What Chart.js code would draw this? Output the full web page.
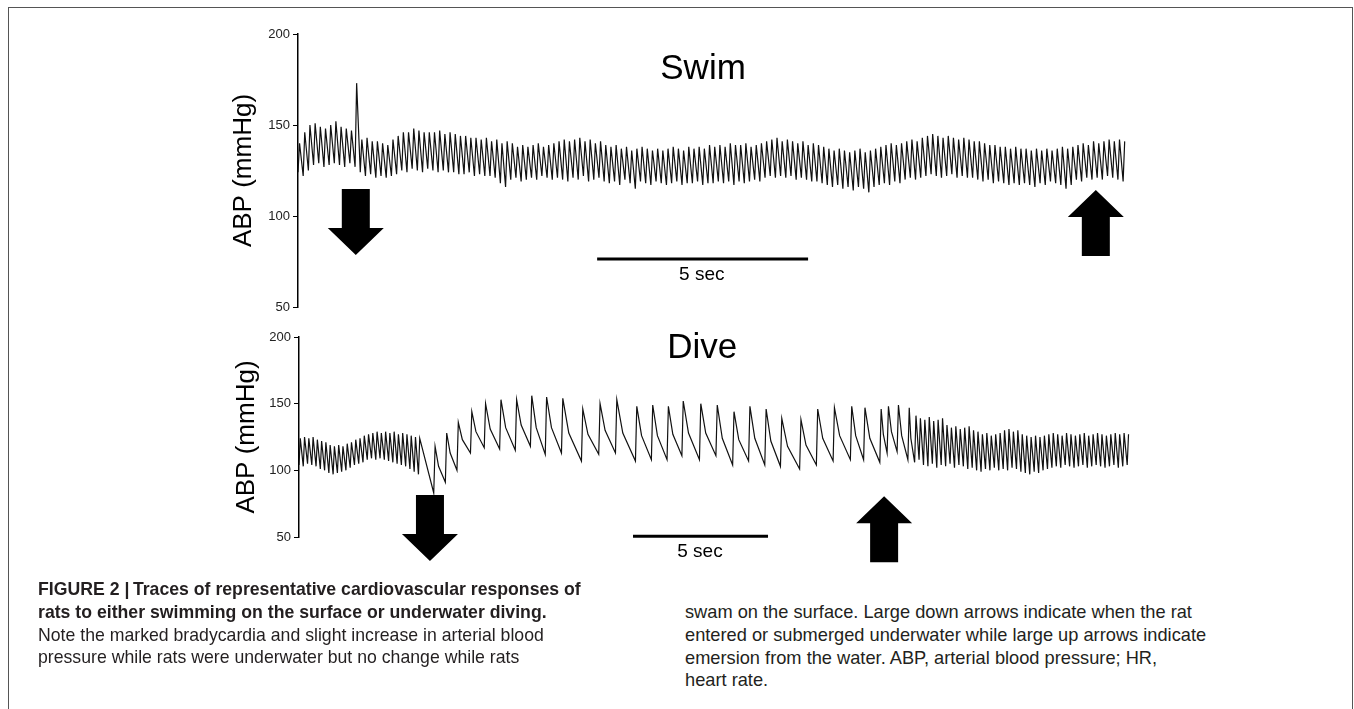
<!DOCTYPE html>
<html>
<head>
<meta charset="utf-8">
<script src="https://cdn.jsdelivr.net/npm/chart.js@4.4.1/dist/chart.umd.min.js"></script>
<style>
  body { margin:0; background:#fff; width:1354px; height:709px; overflow:hidden; position:relative; font-family:"Liberation Sans", Arial, sans-serif; }
  #frame { position:absolute; left:8px; top:7px; width:1343px; height:720px; border:1px solid #555; border-bottom:none; }
  .panel { position:absolute; left:0; }
  .cap { position:absolute; font-family:"Liberation Sans", Arial, sans-serif; font-size:19px; line-height:22.8px; color:#231f20; white-space:nowrap; transform:scaleX(0.93); transform-origin:0 0; }
</style>
</head>
<body>
<div id="frame"></div>
<canvas id="swim" class="panel" width="1354" height="320" style="top:0"></canvas>
<canvas id="dive" class="panel" width="1354" height="260" style="top:320px"></canvas>

<div class="cap" style="left:38px; top:578px;"><b>FIGURE 2 |&#8201;Traces of representative cardiovascular responses of<br>rats to either swimming on the surface or underwater diving.</b><br>Note the marked bradycardia and slight increase in arterial blood<br>pressure while rats were underwater but no change while rats</div>
<div class="cap" style="left:685px; top:601px; transform:scaleX(0.96);">swam on the surface. Large down arrows indicate when the rat<br>entered or submerged underwater while large up arrows indicate<br>emersion from the water. ABP, arterial blood pressure; HR,<br>heart rate.</div>

<script>
// ---------- DATA (mmHg)

var yTicks = [50, 100, 150, 200];

// SWIM: one diastolic / systolic reading per beat
var swimBeat = 0.123;   // s between beats
var swimEnd  = 19.72;
var swimSys = [
  140,146,150,151,149,148,150,152,149,148,
  147,173,142,143,141,141,140,139,142,144,
  146,146,148,147,146,146,146,147,145,146,
  145,144,144,143,143,142,143,141,142,140,
  141,140,138,139,138,139,140,138,139,140,
  141,142,141,142,143,141,142,140,141,139,
  138,139,137,138,136,137,138,137,136,137,
  136,137,138,137,136,138,137,138,137,139,
  138,139,138,140,139,139,140,138,139,140,
  141,142,143,141,142,141,140,141,139,140,
  139,138,137,136,137,136,135,136,137,135,
  136,137,138,139,140,139,140,141,142,141,
  143,144,145,144,143,144,143,142,143,142,
  141,141,140,139,139,138,138,137,138,137,
  137,136,137,136,137,136,137,138,137,138,
  139,140,139,141,140,141,142,141,142,141
];
var swimDia = [
  124,122,125,128,129,127,128,129,128,127,
  129,127,124,122,123,121,122,121,122,123,
  125,124,126,125,124,126,125,124,125,124,
  124,123,123,124,122,123,122,122,121,118,
  116,120,121,119,120,121,120,122,121,120,
  121,120,119,121,120,122,119,120,121,119,
  118,119,117,120,118,115,119,118,117,119,
  118,117,118,119,117,118,118,119,117,118,
  118,119,118,119,117,119,118,119,120,119,
  121,122,121,122,121,122,120,121,120,119,
  119,118,117,116,117,115,116,114,116,115,
  113,116,117,118,117,119,118,120,121,120,
  121,122,123,122,121,122,123,121,122,121,
  121,120,119,120,118,119,118,117,118,117,
  118,117,116,118,117,119,118,117,115,117,
  120,119,121,120,121,120,122,121,120,119
];

// DIVE: before submersion (fast beats)
var preBeat = 0.158;
var preSys = [124,125,124,125,123,122,121,119,118,119,118,120,121,123,124,126,127,128,129,128,129,128,129,127,128,127,126,125,124];
var preDia = [104,103,105,104,103,101,100,98,97,98,99,100,102,104,105,106,108,109,108,109,108,107,106,105,104,103,101,99,97];

// DIVE: bradycardia, beat peak times (s), trough before peak, peak, value early in the decay
var bradyT   = [5.04,5.47,5.90,6.40,6.91,7.48,8.06,8.62,9.17,9.77,10.51,11.15,11.77,12.51,13.10,13.68,14.23,14.88,15.49,16.11,16.70,17.30,17.88,18.59,19.21,19.83,20.47,20.96,21.56,21.83,22.20,22.60];
var bradyDia = [83,91,100,113,117,116,115,118,112,113,107,112,113,107,108,108,111,108,111,104,107,104,103,101,104,107,108,108,106,113,114,108];
var bradySys = [118,128,136,144,150,153,153,156,155,154,146,150,153,148,149,148,152,150,149,144,148,146,139,138,146,147,148,147,146,148,149,147];
var bradyMid = [103,113,123,129,131,132,134,132,132,128,127,130,128,126,126,127,128,128,124,123,124,122,118,119,124,126,126,124,127,129,126,124];

// DIVE: after emersion (fast beats again)
var postStart = 22.8;
var postBeat  = 0.164;
var postSys = [141,139,138,140,137,138,139,134,132,133,131,132,133,130,129,127,128,126,127,128,130,131,129,130,127,126,125,126,125,126,127,128,127,126,128,127,126,127,128,126,127,128,127,126,127,128,127,128,127];
var postDia = [106,108,104,103,105,102,104,103,105,102,104,103,101,102,100,99,101,100,102,100,101,100,102,101,99,98,97,99,98,100,101,102,103,102,104,103,102,103,104,102,103,104,103,102,103,104,102,103,104];
var diveEnd = 30.85;

// ---------- BUILD TRACES

function beatTrace(sys, dia, t0, beat) {
    var pts = [];
    for (var i = 0; i < sys.length; i++) {
        var t = t0 + i * beat;
        pts.push({x: t, y: dia[i]});
        pts.push({x: t + beat * 0.3, y: sys[i]});
    }
    return pts;
}

var swimPts = beatTrace(swimSys, swimDia, 0, swimBeat);

var divePts = beatTrace(preSys, preDia, 0, preBeat);
for (var k = 0; k < bradyT.length; k++) {
    var next = (k + 1 < bradyT.length) ? bradyT[k + 1] : postStart;
    divePts.push({x: bradyT[k] - 0.05, y: bradyDia[k]});
    divePts.push({x: bradyT[k], y: bradySys[k]});
    divePts.push({x: bradyT[k] + (next - bradyT[k]) * 0.3, y: bradyMid[k]});
}
divePts = divePts.concat(beatTrace(postSys, postDia, postStart, postBeat));

// ---------- ANNOTATIONS (arrows, scale bar, panel name)

function drawArrow(ctx, x, tipY, dir) {
    var s = dir === 'down' ? -1 : 1;
    var headLen = 27, len = 66, shaft = 14, head = 28;
    ctx.beginPath();
    ctx.moveTo(x, tipY);
    ctx.lineTo(x + head, tipY + s * headLen);
    ctx.lineTo(x + shaft, tipY + s * headLen);
    ctx.lineTo(x + shaft, tipY + s * len);
    ctx.lineTo(x - shaft, tipY + s * len);
    ctx.lineTo(x - shaft, tipY + s * headLen);
    ctx.lineTo(x - head, tipY + s * headLen);
    ctx.closePath();
    ctx.fill();
}

function marksPlugin(m) {
    return {
        id: 'marks',
        afterDraw: function (chart) {
            var ctx = chart.ctx, xs = chart.scales.x, ys = chart.scales.y;
            ctx.save();
            ctx.fillStyle = '#000';
            ctx.strokeStyle = '#000';
            ctx.textAlign = 'center';
            ctx.textBaseline = 'middle';
            // panel name
            ctx.font = '35px "Liberation Sans", Arial, sans-serif';
            ctx.fillText(m.title, xs.getPixelForValue(m.titleAt[0]), ys.getPixelForValue(m.titleAt[1]));
            // 5 sec bar
            var by = ys.getPixelForValue(m.bar.y);
            ctx.lineWidth = 3;
            ctx.beginPath();
            ctx.moveTo(xs.getPixelForValue(m.bar.from), by);
            ctx.lineTo(xs.getPixelForValue(m.bar.to), by);
            ctx.stroke();
            ctx.font = '19px "Liberation Sans", Arial, sans-serif';
            ctx.fillText('5 sec', xs.getPixelForValue(m.bar.labelX), ys.getPixelForValue(m.bar.labelY));
            // arrows
            m.arrows.forEach(function (a) {
                drawArrow(ctx, xs.getPixelForValue(a.x), ys.getPixelForValue(a.y), a.dir);
            });
            ctx.restore();
        }
    };
}

function makeChart(id, points, xMax, pad, titlePad, marks) {
    return new Chart(document.getElementById(id), {
        type: 'line',
        data: {
            datasets: [{
                data: points,
                borderColor: '#111',
                borderWidth: 1.2,
                pointRadius: 0,
                tension: 0
            }]
        },
        options: {
            responsive: false,
            animation: false,
            events: [],
            layout: { padding: pad },
            plugins: { legend: { display: false }, tooltip: { enabled: false } },
            scales: {
                x: { type: 'linear', min: 0, max: xMax, display: false },
                y: {
                    min: 50, max: 200,
                    afterFit: function (s) { s.width = 78; },
                    afterBuildTicks: function (s) { s.ticks = yTicks.map(function (v) { return {value: v}; }); },
                    ticks: { color: '#222', padding: 3, font: { size: 13, family: '"Liberation Sans", Arial, sans-serif' } },
                    grid: { drawOnChartArea: false, drawTicks: true, tickLength: 5, color: '#000', lineWidth: 1 },
                    border: { display: true, color: '#000', width: 1.5 },
                    title: {
                        display: true, text: 'ABP (mmHg)', color: '#000',
                        padding: { top: titlePad, bottom: 0 },
                        font: { size: 26, family: '"Liberation Sans", Arial, sans-serif' }
                    }
                }
            }
        },
        plugins: [marksPlugin(marks)]
    });
}

makeChart('swim', swimPts, swimEnd, { top: 34, bottom: 13, left: 220, right: 224 }, 8, {
    title: 'Swim', titleAt: [9.6, 180.8],
    bar: { from: 7.09, to: 12.09, y: 76.4, labelX: 9.57, labelY: 67.6 },
    arrows: [ { x: 1.37, y: 78.6, dir: 'down' }, { x: 18.91, y: 114.3, dir: 'up' } ]
});

makeChart('dive', divePts, diveEnd, { top: 17, bottom: 43, left: 221, right: 222 }, 10, {
    title: 'Dive', titleAt: [14.93, 191.8],
    bar: { from: 12.37, to: 17.37, y: 50.5, labelX: 14.85, labelY: 38.8 },
    arrows: [ { x: 4.85, y: 32, dir: 'down' }, { x: 21.67, y: 80.6, dir: 'up' } ]
});
</script>
</body>
</html>
